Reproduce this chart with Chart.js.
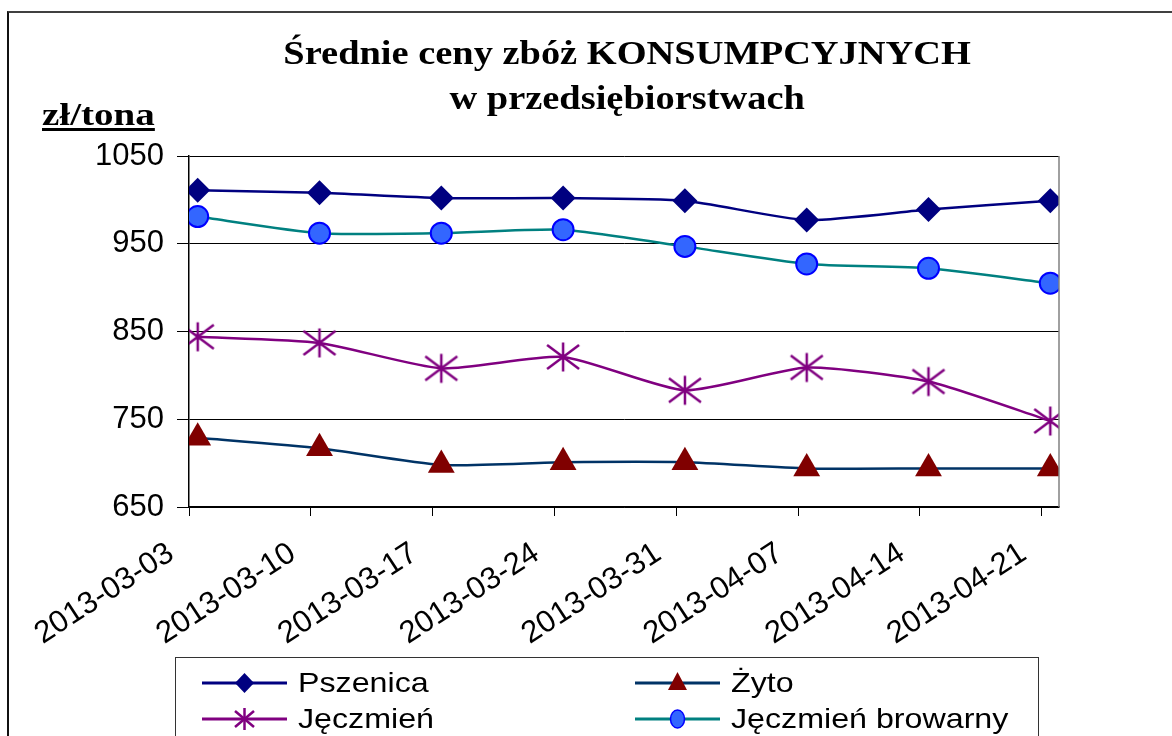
<!DOCTYPE html>
<html>
<head>
<meta charset="utf-8">
<script src="https://cdn.jsdelivr.net/npm/chart.js@4.4.1/dist/chart.umd.min.js"></script>
<style>
  html, body { margin: 0; padding: 0; background: #fff; }
  body { width: 1172px; height: 736px; position: relative; overflow: hidden; font-family: "Liberation Sans", Arial, sans-serif; }
  #frame { position: absolute; left: 7px; top: 11px; width: 1200px; height: 800px; border-top: 2px solid #404040; border-left: 2px solid #111; }
  #wrap { position: absolute; left: 0; top: 0; width: 1172px; height: 736px; }
  .title { position: absolute; left: 0; width: 1110px; text-align: center; font-family: "Liberation Serif", "Times New Roman", serif; font-weight: bold; font-size: 34px; color: #000; white-space: nowrap; transform: scaleX(1.13); transform-origin: 0 0; }
  #ylab { position: absolute; left: 42px; top: 97px; font-family: "Liberation Serif", "Times New Roman", serif; font-weight: bold; font-size: 31px; text-decoration: underline; text-decoration-thickness: 3px; text-underline-offset: 3px; white-space: nowrap; transform: scaleX(1.26); transform-origin: 0 0; }
  #legend { position: absolute; left: 175px; top: 657px; width: 862px; height: 120px; border: 1px solid #333; }
  .item { position: absolute; height: 36px; display: flex; align-items: center; }
  .item svg { display: block; }
  .item span { font-size: 28px; margin-left: 11px; white-space: nowrap; transform: scaleX(1.15); transform-origin: 0 50%; display: inline-block; }
</style>
</head>
<body>
<div id="frame"></div>
<div id="wrap"><canvas id="c" width="1172" height="736"></canvas></div>
<div class="title" style="top:34px;">Średnie ceny zbóż KONSUMPCYJNYCH</div>
<div class="title" style="top:79px;">w przedsiębiorstwach</div>
<div id="ylab">zł/tona</div>
<div id="legend"></div>
<script>
// ---- data ----
const dates = ["2013-03-03","2013-03-10","2013-03-17","2013-03-24","2013-03-31","2013-04-07","2013-04-14","2013-04-21"];
const seriesNames = ["Pszenica","Żyto","Jęczmień","Jęczmień browarny"];
const pszenica = [1011, 1008, 1002, 1002, 999, 977, 989, 999];
const zyto = [729, 717, 698, 701, 701, 694, 694, 694];
const jeczmien = [844, 837, 808, 821, 783, 809, 793, 748];
const jeczmienBrowarny = [981, 962, 962, 966, 947, 927, 922, 905];
const yTicks = [650, 750, 850, 950, 1050];

const daysPerWeek = 7;
const pointDayOffset = 0.5; // points plotted at noon of each date

function toXY(arr) {
  return arr.map((v, i) => ({ x: i * daysPerWeek + pointDayOffset, y: v }));
}

// custom asterisk marker (vertical + X)
function makeAsterisk(color) {
  const c = document.createElement('canvas');
  c.width = 36; c.height = 32;
  const g = c.getContext('2d');
  g.strokeStyle = color; g.lineWidth = 2.5; g.lineCap = 'butt';
  g.beginPath();
  g.moveTo(18, 1.5); g.lineTo(18, 30.5);
  g.moveTo(2, 4); g.lineTo(34, 28);
  g.moveTo(34, 4); g.lineTo(2, 28);
  g.stroke();
  return c;
}
const asterisk = makeAsterisk('#800080');

const chartBorder = {
  id: 'chartBorder',
  afterDraw(chart) {
    const a = chart.chartArea, ctx = chart.ctx;
    ctx.save();
    ctx.strokeStyle = '#808080'; ctx.lineWidth = 1.5;
    ctx.beginPath(); ctx.moveTo(a.right, a.top); ctx.lineTo(a.right, a.bottom); ctx.stroke();
    ctx.restore();
  }
};

const datasets = [
  { label: seriesNames[0], data: toXY(pszenica), borderColor: '#000080', backgroundColor: '#000080',
    pointStyle: 'rectRot', pointRadius: 12.5, pointBorderWidth: 0, pointBackgroundColor: '#000080', borderWidth: 2.5 },
  { label: seriesNames[1], data: toXY(zyto), borderColor: '#003366', backgroundColor: '#800000',
    pointStyle: 'triangle', pointRadius: 15.5, pointBorderWidth: 0, pointBackgroundColor: '#800000', borderWidth: 2.5 },
  { label: seriesNames[2], data: toXY(jeczmien), borderColor: '#800080', backgroundColor: '#800080',
    pointStyle: asterisk, pointRadius: 16, borderWidth: 2.5 },
  { label: seriesNames[3], data: toXY(jeczmienBrowarny), borderColor: '#008080', backgroundColor: '#3366FF',
    pointStyle: 'circle', pointRadius: 10.5, pointBorderWidth: 2, pointBorderColor: '#0000FF', pointBackgroundColor: '#3366FF', borderWidth: 2.5 }
];

new Chart(document.getElementById('c'), {
  type: 'line',
  data: { datasets },
  plugins: [chartBorder],
  options: {
    responsive: false,
    animation: false,
    events: [],
    layout: { padding: { left: 0, top: 156, right: 113, bottom: 0 } },
    elements: { line: { tension: 0.2 } },
    plugins: { legend: { display: false }, title: { display: false }, tooltip: { enabled: false } },
    scales: {
      x: {
        type: 'linear',
        min: 0, max: (dates.length - 1) * daysPerWeek + 1,
        afterFit(s) { s.height = 229; },
        afterBuildTicks(s) { s.ticks = dates.map((d, i) => ({ value: i * daysPerWeek })); },
        ticks: {
          callback: (v) => dates[Math.round(v / daysPerWeek)],
          minRotation: 33, maxRotation: 33, autoSkip: false,
          font: { family: '"Liberation Sans", Arial, sans-serif', size: 31 },
          color: '#000', padding: 19, labelOffset: -18
        },
        grid: { drawOnChartArea: false, tickLength: 9, color: '#000', lineWidth: 1 },
        border: { color: '#000', width: 1.5 }
      },
      y: {
        min: 650, max: 1050,
        afterFit(s) { s.width = 189; },
        afterBuildTicks(s) { s.ticks = yTicks.map(v => ({ value: v })); },
        ticks: { callback: (v) => String(v), font: { family: '"Liberation Sans", Arial, sans-serif', size: 31 }, color: '#000', padding: 13 },
        grid: { color: '#000', lineWidth: 1, tickLength: 12 },
        border: { color: '#000', width: 1.5 }
      }
    }
  }
});

// ---- legend (HTML) ----
const legendDefs = [
  { name: seriesNames[0], line: '#000080', marker: 'diamond', col: 0, row: 0 },
  { name: seriesNames[1], line: '#003366', marker: 'triangle', col: 1, row: 0 },
  { name: seriesNames[2], line: '#800080', marker: 'asterisk', col: 0, row: 1 },
  { name: seriesNames[3], line: '#008080', marker: 'circle', col: 1, row: 1 }
];
function markerSvg(m) {
  if (m === 'diamond') return '<polygon points="42.5,8 52,18 42.5,28 33,18" fill="#000080"/>';
  if (m === 'triangle') return '<polygon points="42.5,7 52,25 33,25" fill="#800000"/>';
  if (m === 'asterisk') return '<g stroke="#800080" stroke-width="2.5"><line x1="42.5" y1="7" x2="42.5" y2="29"/><line x1="33" y1="10" x2="52" y2="26"/><line x1="52" y1="10" x2="33" y2="26"/></g>';
  return '<ellipse cx="42.5" cy="18" rx="7" ry="9" fill="#3366FF" stroke="#0000FF" stroke-width="1.5"/>';
}
const leg = document.getElementById('legend');
const colX = [26, 459];
const rowY = [7, 43];
legendDefs.forEach(d => {
  const el = document.createElement('div');
  el.className = 'item';
  el.style.left = colX[d.col] + 'px';
  el.style.top = rowY[d.row] + 'px';
  el.innerHTML = '<svg width="85" height="36"><line x1="0" y1="18" x2="85" y2="18" stroke="' + d.line + '" stroke-width="3"/>' +
    markerSvg(d.marker) + '</svg><span>' + d.name + '</span>';
  leg.appendChild(el);
});
</script>
</body>
</html>
